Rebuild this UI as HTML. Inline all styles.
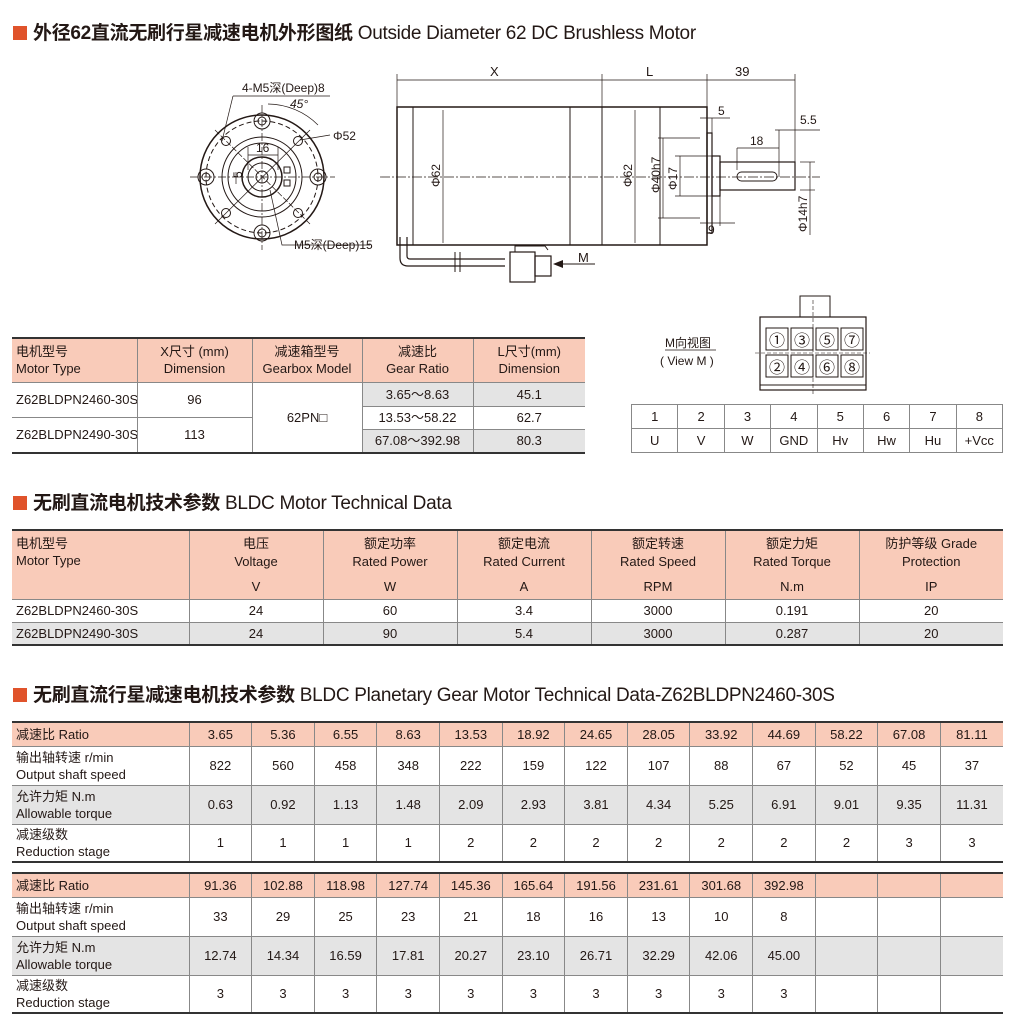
<!DOCTYPE html>
<html><head><meta charset="utf-8">
<style>
body{margin:0;width:1018px;height:1024px;background:#fff;position:relative;overflow:hidden;font-family:"Liberation Sans Narrow","Liberation Sans","Noto Sans CJK SC",sans-serif;color:#231815}
.t{position:absolute;font-size:19px;font-family:"Liberation Sans Narrow","Liberation Sans","Noto Sans CJK SC",sans-serif;white-space:nowrap;letter-spacing:-0.3px}
.t b{font-family:"Liberation Sans","Noto Sans CJK SC",sans-serif;font-weight:bold}
.sq{display:inline-block;width:14px;height:14px;background:#e0532b;margin-right:6px;vertical-align:-1px}
table{position:absolute;border-collapse:collapse;table-layout:fixed;font-size:13px}
td{border:1px solid #888;text-align:center;padding:0;line-height:17px;overflow:hidden;white-space:nowrap}
td.l{text-align:left;padding-left:4px}
.h td{background:#f9cbb9}
.g td{background:#e4e4e4}
table.m{border-top:2px solid #333;border-bottom:2px solid #333}
table.m td:first-child{border-left:none}
table.m td:last-child{border-right:none}
.hd{vertical-align:top;padding-top:4px}
.hd div{height:18px}
.hd div.u{margin-top:7px}
</style></head><body>

<div class="t" style="left:13px;top:18px"><span class="sq"></span><b>外径62直流无刷行星减速电机外形图纸</b> Outside Diameter 62 DC Brushless Motor</div>

<svg style="position:absolute;left:0;top:0" width="1018" height="460" font-family="Liberation Sans Narrow,Liberation Sans,Noto Sans CJK SC,sans-serif" font-size="12" fill="none" stroke="#231815">
<g stroke-width="1">
<circle cx="262" cy="177" r="62" stroke-width="1.5"/>
<circle cx="262" cy="177" r="56" stroke-dasharray="5,3"/>
<circle cx="262" cy="177" r="40"/>
<circle cx="262" cy="177" r="34"/>
<circle cx="262" cy="177" r="20" stroke-width="1.5"/>
<circle cx="262" cy="177" r="14"/>
<circle cx="262" cy="177" r="6"/>
<circle cx="262" cy="121" r="8"/><circle cx="262" cy="121" r="4"/>
<circle cx="262" cy="233" r="8"/><circle cx="262" cy="233" r="4"/>
<circle cx="206" cy="177" r="8"/><circle cx="206" cy="177" r="4"/>
<circle cx="318" cy="177" r="8"/><circle cx="318" cy="177" r="4"/>
<circle cx="226" cy="141" r="4.5"/><circle cx="298" cy="141" r="4.5"/>
<circle cx="226" cy="213" r="4.5"/><circle cx="298" cy="213" r="4.5"/>
<line x1="190" y1="177" x2="335" y2="177" stroke-dasharray="8,2,2,2" stroke-width=".7"/>
<line x1="262" y1="105" x2="262" y2="250" stroke-dasharray="8,2,2,2" stroke-width=".7"/>
<line x1="215" y1="224" x2="310" y2="130" stroke-width=".7"/>
<line x1="215" y1="130" x2="310" y2="224" stroke-width=".7" stroke-dasharray="6,2"/>
<rect x="284" y="167" width="6" height="6"/><rect x="284" y="180" width="6" height="6"/>
<line x1="248" y1="147" x2="248" y2="170" stroke-width=".7"/><line x1="278" y1="147" x2="278" y2="170" stroke-width=".7"/>
<line x1="248" y1="155" x2="278" y2="155" stroke-width=".7"/>
<line x1="236" y1="172" x2="236" y2="184" stroke-width=".7"/>
<path d="M233 96 L222 141" stroke-width=".7"/><line x1="233" y1="96" x2="330" y2="96" stroke-width=".7"/>
<path d="M268 104 A72 72 0 0 1 318 125" stroke-width=".7"/>
<path d="M300 140 L330 135" stroke-width=".7"/>
<path d="M270 190 L282 245 L370 245" stroke-width=".7"/>
</g>
<g fill="#231815" stroke="none">
<text x="242" y="92">4-M5深(Deep)8</text>
<text x="290" y="108" font-style="italic">45°</text>
<text x="333" y="140">Φ52</text>
<text x="256" y="152">16</text>
<text x="238" y="182" transform="rotate(-90 238 178)">5</text>
<text x="294" y="249">M5深(Deep)15</text>
</g>
<g stroke-width="1">
<rect x="397" y="107" width="310" height="138" stroke-width="1.5"/>
<line x1="413" y1="107" x2="413" y2="245"/>
<line x1="570" y1="107" x2="570" y2="245"/>
<line x1="602" y1="107" x2="602" y2="245"/>
<line x1="660" y1="107" x2="660" y2="245"/>
<rect x="707" y="133" width="5" height="100" stroke-width="1.2"/>
<rect x="712" y="156" width="8" height="40" stroke-width="1.2"/>
<rect x="720" y="162" width="75" height="28" stroke-width="1.2"/>
<rect x="737" y="172" width="40" height="9" rx="4.5"/>
<line x1="380" y1="177" x2="820" y2="177" stroke-dasharray="10,2,2,2" stroke-width=".7"/>
<g stroke-width=".7">
<line x1="397" y1="74" x2="397" y2="107"/><line x1="602" y1="74" x2="602" y2="107"/>
<line x1="707" y1="74" x2="707" y2="107"/><line x1="795" y1="74" x2="795" y2="162"/>
<line x1="397" y1="80" x2="795" y2="80"/>
<line x1="443" y1="110" x2="443" y2="243"/>
<line x1="635" y1="110" x2="635" y2="243"/>
<line x1="658" y1="138" x2="700" y2="138"/><line x1="658" y1="218" x2="700" y2="218"/>
<line x1="663" y1="138" x2="663" y2="218"/>
<line x1="675" y1="156" x2="712" y2="156"/><line x1="675" y1="196" x2="712" y2="196"/>
<line x1="680" y1="156" x2="680" y2="196"/>
<line x1="700" y1="118" x2="730" y2="118"/><line x1="712" y1="118" x2="712" y2="133"/>
<line x1="775" y1="130" x2="820" y2="130"/><line x1="779" y1="130" x2="779" y2="177"/>
<line x1="737" y1="148" x2="779" y2="148"/><line x1="737" y1="148" x2="737" y2="170"/>
<line x1="800" y1="162" x2="815" y2="162"/><line x1="800" y1="190" x2="815" y2="190"/>
<line x1="810" y1="162" x2="810" y2="235"/>
<line x1="700" y1="223" x2="735" y2="223"/><line x1="720" y1="196" x2="720" y2="226"/>
</g>
<path d="M400 237 L400 258 Q400 266 408 266 L505 266" stroke-width="1.2"/>
<path d="M407 237 L407 256 Q407 259 410 259 L505 259" stroke-width="1.2"/>
<line x1="455" y1="252" x2="455" y2="272"/><line x1="460" y1="252" x2="460" y2="272"/>
<rect x="510" y="252" width="25" height="30" stroke-width="1.2"/>
<rect x="535" y="256" width="16" height="20" stroke-width="1.2"/>
<path d="M515 252 L515 246 L545 246 L548 250" />
<line x1="560" y1="264" x2="595" y2="264"/>
</g>
<path d="M553 264 L563 260 L563 268 Z" fill="#231815" stroke="none"/>
<g fill="#231815" stroke="none">
<text x="490" y="76" font-size="13">X</text>
<text x="646" y="76" font-size="13">L</text>
<text x="735" y="76" font-size="13">39</text>
<text x="718" y="115">5</text>
<text x="800" y="124">5.5</text>
<text x="750" y="145">18</text>
<text x="708" y="234">9</text>
<text x="578" y="262" font-size="13">M</text>
<text transform="translate(440 187) rotate(-90)">Φ62</text>
<text transform="translate(632 187) rotate(-90)">Φ62</text>
<text transform="translate(660 193) rotate(-90)">Φ40h7</text>
<text transform="translate(677 190) rotate(-90)">Φ17</text>
<text transform="translate(807 232) rotate(-90)">Φ14h7</text>
<text x="665" y="347">M向视图</text>
<text x="660" y="365">( View M )</text>
</g>
<line x1="665" y1="350" x2="716" y2="350" stroke-width=".8"/>
<g stroke-width="1">
<path d="M800 317 L800 296 L830 296 L830 317"/>
<rect x="760" y="317" width="106" height="73" stroke-width="1.2"/>
<line x1="760" y1="385" x2="866" y2="385"/>
<line x1="813" y1="300" x2="813" y2="395" stroke-dasharray="4,2" stroke-width=".6"/>
<line x1="755" y1="353" x2="870" y2="353" stroke-dasharray="4,2" stroke-width=".6"/>
<rect x="766" y="328" width="22" height="22"/><rect x="791" y="328" width="22" height="22"/><rect x="816" y="328" width="22" height="22"/><rect x="841" y="328" width="22" height="22"/>
<rect x="766" y="355" width="22" height="22"/><rect x="791" y="355" width="22" height="22"/><rect x="816" y="355" width="22" height="22"/><rect x="841" y="355" width="22" height="22"/>
</g>
<g fill="#231815" stroke="none" font-size="16">
<text x="769" y="346">①</text><text x="794" y="346">③</text><text x="819" y="346">⑤</text><text x="844" y="346">⑦</text>
<text x="769" y="373">②</text><text x="794" y="373">④</text><text x="819" y="373">⑥</text><text x="844" y="373">⑧</text>
</g>
</svg>

<table class="m" style="left:12px;top:337px;width:573px">
<colgroup><col style="width:125px"><col style="width:115px"><col style="width:110px"><col style="width:111px"><col style="width:112px"></colgroup>
<tr class="h" style="height:44px"><td class="l">电机型号<br>Motor Type</td><td>X尺寸 (mm)<br>Dimension</td><td>减速箱型号<br>Gearbox Model</td><td>减速比<br>Gear Ratio</td><td>L尺寸(mm)<br>Dimension</td></tr>
<tr style="height:24px"><td class="l" rowspan="2">Z62BLDPN2460-30S</td><td rowspan="2">96</td><td rowspan="4">62PN□</td><td style="background:#e4e4e4">3.65～8.63</td><td style="background:#e4e4e4">45.1</td></tr>
<tr style="height:11px"><td rowspan="2">13.53～58.22</td><td rowspan="2">62.7</td></tr>
<tr style="height:12px"><td class="l" rowspan="2">Z62BLDPN2490-30S</td><td rowspan="2">113</td></tr>
<tr style="height:24px"><td style="background:#e4e4e4">67.08～392.98</td><td style="background:#e4e4e4">80.3</td></tr>
</table>

<table style="left:631px;top:404px;width:372px">
<tr style="height:24px"><td>1</td><td>2</td><td>3</td><td>4</td><td>5</td><td>6</td><td>7</td><td>8</td></tr>
<tr style="height:24px"><td>U</td><td>V</td><td>W</td><td>GND</td><td>Hv</td><td>Hw</td><td>Hu</td><td>+Vcc</td></tr>
</table>

<div class="t" style="left:13px;top:488px"><span class="sq"></span><b>无刷直流电机技术参数</b> BLDC Motor Technical Data</div>

<table class="m" style="left:12px;top:529px;width:991px">
<colgroup><col style="width:177px"><col style="width:134px"><col style="width:134px"><col style="width:134px"><col style="width:134px"><col style="width:134px"><col style="width:144px"></colgroup>
<tr class="h" style="height:69px"><td class="l hd">电机型号<br>Motor Type</td>
<td class="hd"><div>电压</div><div>Voltage</div><div class="u">V</div></td>
<td class="hd"><div>额定功率</div><div>Rated Power</div><div class="u">W</div></td>
<td class="hd"><div>额定电流</div><div>Rated Current</div><div class="u">A</div></td>
<td class="hd"><div>额定转速</div><div>Rated Speed</div><div class="u">RPM</div></td>
<td class="hd"><div>额定力矩</div><div>Rated Torque</div><div class="u">N.m</div></td>
<td class="hd"><div>防护等级 Grade</div><div>Protection</div><div class="u">IP</div></td></tr>
<tr style="height:23px"><td class="l">Z62BLDPN2460-30S</td><td>24</td><td>60</td><td>3.4</td><td>3000</td><td>0.191</td><td>20</td></tr>
<tr class="g" style="height:23px"><td class="l">Z62BLDPN2490-30S</td><td>24</td><td>90</td><td>5.4</td><td>3000</td><td>0.287</td><td>20</td></tr>
</table>

<div class="t" style="left:13px;top:680px"><span class="sq"></span><b>无刷直流行星减速电机技术参数</b> BLDC Planetary Gear Motor Technical Data-Z62BLDPN2460-30S</div>

<table class="m" style="left:12px;top:721px;width:991px">
<colgroup><col style="width:177px"><col span="13" style="width:62.6px"></colgroup>
<tr class="h" style="height:24px"><td class="l">减速比 Ratio</td><td>3.65</td><td>5.36</td><td>6.55</td><td>8.63</td><td>13.53</td><td>18.92</td><td>24.65</td><td>28.05</td><td>33.92</td><td>44.69</td><td>58.22</td><td>67.08</td><td>81.11</td></tr>
<tr style="height:39px"><td class="l">输出轴转速 r/min<br>Output shaft speed</td><td>822</td><td>560</td><td>458</td><td>348</td><td>222</td><td>159</td><td>122</td><td>107</td><td>88</td><td>67</td><td>52</td><td>45</td><td>37</td></tr>
<tr class="g" style="height:39px"><td class="l">允许力矩 N.m<br>Allowable torque</td><td>0.63</td><td>0.92</td><td>1.13</td><td>1.48</td><td>2.09</td><td>2.93</td><td>3.81</td><td>4.34</td><td>5.25</td><td>6.91</td><td>9.01</td><td>9.35</td><td>11.31</td></tr>
<tr style="height:38px"><td class="l">减速级数<br>Reduction stage</td><td>1</td><td>1</td><td>1</td><td>1</td><td>2</td><td>2</td><td>2</td><td>2</td><td>2</td><td>2</td><td>2</td><td>3</td><td>3</td></tr>
</table>

<table class="m" style="left:12px;top:872px;width:991px">
<colgroup><col style="width:177px"><col span="13" style="width:62.6px"></colgroup>
<tr class="h" style="height:24px"><td class="l">减速比 Ratio</td><td>91.36</td><td>102.88</td><td>118.98</td><td>127.74</td><td>145.36</td><td>165.64</td><td>191.56</td><td>231.61</td><td>301.68</td><td>392.98</td><td></td><td></td><td></td></tr>
<tr style="height:39px"><td class="l">输出轴转速 r/min<br>Output shaft speed</td><td>33</td><td>29</td><td>25</td><td>23</td><td>21</td><td>18</td><td>16</td><td>13</td><td>10</td><td>8</td><td></td><td></td><td></td></tr>
<tr class="g" style="height:39px"><td class="l">允许力矩 N.m<br>Allowable torque</td><td>12.74</td><td>14.34</td><td>16.59</td><td>17.81</td><td>20.27</td><td>23.10</td><td>26.71</td><td>32.29</td><td>42.06</td><td>45.00</td><td></td><td></td><td></td></tr>
<tr style="height:38px"><td class="l">减速级数<br>Reduction stage</td><td>3</td><td>3</td><td>3</td><td>3</td><td>3</td><td>3</td><td>3</td><td>3</td><td>3</td><td>3</td><td></td><td></td><td></td></tr>
</table>
</body></html>
